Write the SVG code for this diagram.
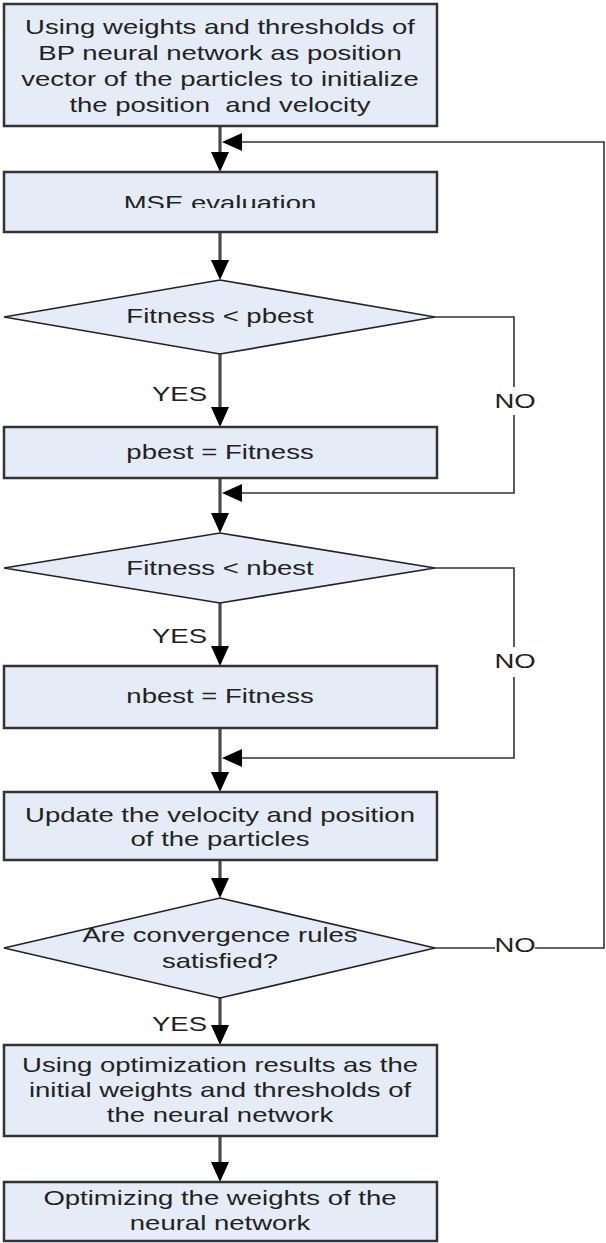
<svg xmlns="http://www.w3.org/2000/svg" width="606" height="1243" viewBox="0 0 606 1243">
  <style>
    .box { fill: #e5ecf7; stroke: #333; stroke-width: 2.5; }
    .dia { fill: #e5ecf7; stroke: #222; stroke-width: 1.7; }
    .t { font-family: "Liberation Sans", Arial, sans-serif; font-size: 21px; fill: #222; text-anchor: middle; }
    .lbl { font-family: "Liberation Sans", Arial, sans-serif; font-size: 21px; fill: #222; }
    .flow { fill: none; stroke: #4a4a4a; stroke-width: 3.2; }
    .back { fill: none; stroke: #333; stroke-width: 1.6; }
  </style>
  <defs>
    <marker id="arrow" markerUnits="userSpaceOnUse" markerWidth="20" markerHeight="18" refX="16" refY="9" orient="auto">
      <path d="M0,0 L20,9 L0,18 z" fill="#000"/>
    </marker>
    <clipPath id="mseClip" clipPathUnits="userSpaceOnUse">
      <rect x="0" y="172" width="606" height="36"/>
    </clipPath>
  </defs>
  <rect width="606" height="1243" fill="#fff"/>

  <!-- connectors -->
  <g id="connectors">
    <path class="flow" d="M220,126 V168" marker-end="url(#arrow)"/>
    <path class="flow" d="M220,232 V276" marker-end="url(#arrow)"/>
    <path class="flow" d="M220,354 V423" marker-end="url(#arrow)"/>
    <path class="flow" d="M220,478 V529" marker-end="url(#arrow)"/>
    <path class="flow" d="M220,603 V662" marker-end="url(#arrow)"/>
    <path class="flow" d="M220,728 V788" marker-end="url(#arrow)"/>
    <path class="flow" d="M220,860 V894" marker-end="url(#arrow)"/>
    <path class="flow" d="M220,998 V1041" marker-end="url(#arrow)"/>
    <path class="flow" d="M220,1136 V1178" marker-end="url(#arrow)"/>
    <!-- NO branch of Fitness < pbest -->
    <path class="back" d="M435,317 H514 V387"/>
    <path class="back" d="M514,415 V493 H226" marker-end="url(#arrow)"/>
    <!-- NO branch of Fitness < nbest -->
    <path class="back" d="M435,568 H514 V647"/>
    <path class="back" d="M514,677 V758 H226" marker-end="url(#arrow)"/>
    <!-- NO branch of convergence check, back to MSE evaluation -->
    <path class="back" d="M433,948 H495"/>
    <path class="back" d="M535,948 H604 V142 H226" marker-end="url(#arrow)"/>
    <text class="lbl" text-anchor="end" transform="matrix(1.31 0 0 1 207 0)" y="401">YES</text>
    <text class="lbl" text-anchor="middle" transform="matrix(1.31 0 0 1 515 0)" y="408">NO</text>
    <text class="lbl" text-anchor="end" transform="matrix(1.31 0 0 1 207 0)" y="643">YES</text>
    <text class="lbl" text-anchor="middle" transform="matrix(1.31 0 0 1 515 0)" y="668">NO</text>
    <text class="lbl" text-anchor="middle" transform="matrix(1.31 0 0 1 515 0)" y="952">NO</text>
    <text class="lbl" text-anchor="end" transform="matrix(1.31 0 0 1 207 0)" y="1031">YES</text>
  </g>

  <g id="init">
    <rect class="box" x="4" y="4" width="433" height="122"/>
    <text class="t" transform="matrix(1.31 0 0 1 220 0)" y="34">Using weights and thresholds of</text>
    <text class="t" transform="matrix(1.31 0 0 1 220 0)" y="60">BP neural network as position</text>
    <text class="t" transform="matrix(1.31 0 0 1 220 0)" y="86">vector of the particles to initialize</text>
    <text class="t" transform="matrix(1.31 0 0 1 220 0)" y="112" xml:space="preserve">the position  and velocity</text>
  </g>

  <g id="mse">
    <rect class="box" x="4" y="172" width="433" height="60"/>
    <!-- label is cut off just above its baseline -->
    <g clip-path="url(#mseClip)">
      <text class="t" transform="matrix(1.31 0 0 1 220 0)" y="210">MSE evaluation</text>
    </g>
  </g>

  <g id="check-pbest">
    <polygon class="dia" points="4,317 220,280 435,317 220,354"/>
    <text class="t" transform="matrix(1.31 0 0 1 220 0)" y="323">Fitness &lt; pbest</text>
  </g>

  <g id="set-pbest">
    <rect class="box" x="4" y="427" width="433" height="51"/>
    <text class="t" transform="matrix(1.31 0 0 1 220 0)" y="459">pbest = Fitness</text>
  </g>

  <g id="check-nbest">
    <polygon class="dia" points="4,568 220,533 435,568 220,603"/>
    <text class="t" transform="matrix(1.31 0 0 1 220 0)" y="575">Fitness &lt; nbest</text>
  </g>

  <g id="set-nbest">
    <rect class="box" x="4" y="666" width="433" height="62"/>
    <text class="t" transform="matrix(1.31 0 0 1 220 0)" y="703">nbest = Fitness</text>
  </g>

  <g id="update">
    <rect class="box" x="4" y="792" width="433" height="68"/>
    <text class="t" transform="matrix(1.31 0 0 1 220 0)" y="822">Update the velocity and position</text>
    <text class="t" transform="matrix(1.31 0 0 1 220 0)" y="846">of the particles</text>
  </g>

  <g id="converged">
    <polygon class="dia" points="4,948 220,898 435,948 220,998"/>
    <text class="t" transform="matrix(1.31 0 0 1 220 0)" y="942">Are convergence rules</text>
    <text class="t" transform="matrix(1.31 0 0 1 220 0)" y="968">satisfied?</text>
  </g>

  <g id="apply-results">
    <rect class="box" x="4" y="1045" width="433" height="91"/>
    <text class="t" transform="matrix(1.31 0 0 1 220 0)" y="1072">Using optimization results as the</text>
    <text class="t" transform="matrix(1.31 0 0 1 220 0)" y="1097">initial weights and thresholds of</text>
    <text class="t" transform="matrix(1.31 0 0 1 220 0)" y="1122">the neural network</text>
  </g>

  <g id="optimize">
    <rect class="box" x="4" y="1182" width="433" height="59"/>
    <text class="t" transform="matrix(1.31 0 0 1 220 0)" y="1205">Optimizing the weights of the</text>
    <text class="t" transform="matrix(1.31 0 0 1 220 0)" y="1230">neural network</text>
  </g>
</svg>
